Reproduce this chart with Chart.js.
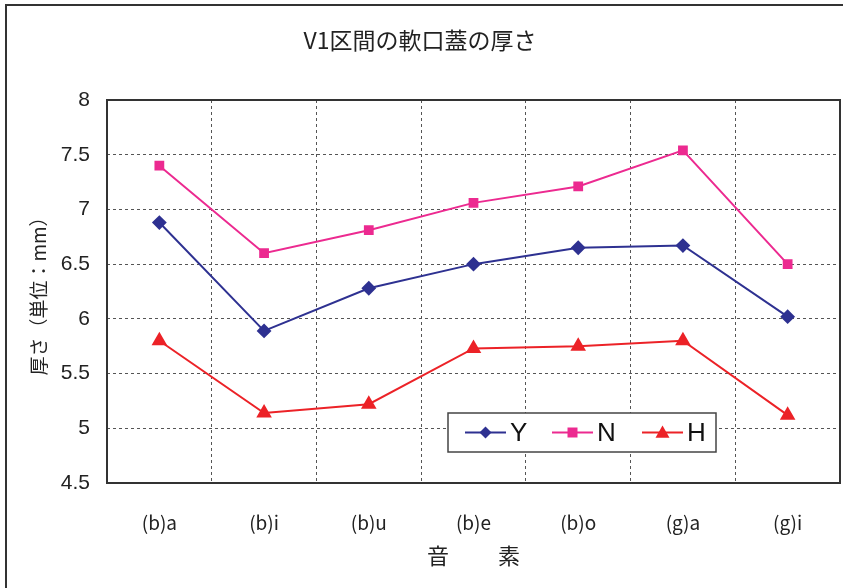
<!DOCTYPE html>
<html>
<head>
<meta charset="utf-8">
<script src="https://cdn.jsdelivr.net/npm/chart.js@4"></script>
<style>
html,body{margin:0;padding:0;background:#fff;}
#wrap{width:843px;height:588px;position:relative;}
</style>
</head>
<body>
<div id="wrap"><canvas id="c" width="843" height="588"></canvas></div>
<script>
const titleText = 'V1区間の軟口蓋の厚さ';
const xTitle = '音　　 素';
const yTitle = '厚さ（単位：mm）';
const categories = ['(b)a', '(b)i', '(b)u', '(b)e', '(b)o', '(g)a', '(g)i'];
const seriesNames = ['Y', 'N', 'H'];
const valuesY = [6.88, 5.89, 6.28, 6.50, 6.65, 6.67, 6.02];
const valuesN = [7.40, 6.60, 6.81, 7.06, 7.21, 7.54, 6.50];
const valuesH = [5.80, 5.14, 5.22, 5.73, 5.75, 5.80, 5.12];
const yMin = 4.5, yMax = 8, yStep = 0.5;

const JP = '"Noto Sans CJK JP", "Noto Sans", sans-serif';
const NUM = '"Liberation Sans", Arial, sans-serif';

const frameAndLegend = {
  id: 'frameAndLegend',
  beforeDatasetsDraw(chart) {
    const {ctx, chartArea: a} = chart;
    ctx.save();
    ctx.strokeStyle = '#333';
    ctx.lineWidth = 2;
    ctx.strokeRect(a.left, a.top, a.right - a.left, a.bottom - a.top);
    ctx.restore();
  },
  afterDraw(chart) {
    const {ctx} = chart;
    ctx.save();
    // outer frame (left and top edges visible)
    ctx.strokeStyle = '#333';
    ctx.lineWidth = 2;
    ctx.beginPath();
    ctx.moveTo(6, 600); ctx.lineTo(6, 5); ctx.lineTo(845, 5);
    ctx.stroke();
    // legend box
    const bx = 448, by = 413, bw = 268, bh = 39;
    ctx.fillStyle = '#fff';
    ctx.fillRect(bx, by, bw, bh);
    ctx.strokeStyle = '#444';
    ctx.lineWidth = 1.5;
    ctx.strokeRect(bx, by, bw, bh);
    const cy = by + bh / 2;
    const starts = [465, 552, 642];
    chart.data.datasets.forEach((ds, i) => {
      const x0 = starts[i], x1 = x0 + 41, mx = (x0 + x1) / 2;
      ctx.strokeStyle = ds.borderColor;
      ctx.lineWidth = 2;
      ctx.beginPath(); ctx.moveTo(x0, cy); ctx.lineTo(x1, cy); ctx.stroke();
      ctx.fillStyle = ds.pointBackgroundColor;
      ctx.beginPath();
      if (ds.pointStyle === 'rectRot') {
        const r = 6;
        ctx.moveTo(mx, cy - r); ctx.lineTo(mx + r, cy); ctx.lineTo(mx, cy + r); ctx.lineTo(mx - r, cy);
      } else if (ds.pointStyle === 'rect') {
        ctx.rect(mx - 5, cy - 5, 10, 10);
      } else {
        const r = 7;
        ctx.moveTo(mx, cy - r); ctx.lineTo(mx + r, cy + r * 0.75); ctx.lineTo(mx - r, cy + r * 0.75);
      }
      ctx.closePath(); ctx.fill();
      ctx.fillStyle = '#111';
      ctx.font = '26px ' + NUM;
      ctx.textBaseline = 'middle';
      ctx.textAlign = 'left';
      ctx.fillText(ds.label, x1 + 4, cy + 1);
    });
    ctx.restore();
  }
};

new Chart(document.getElementById('c'), {
  type: 'line',
  data: {
    labels: categories,
    datasets: [
      {label: seriesNames[0], data: valuesY, borderColor: '#2E3191', pointBackgroundColor: '#2E3191', pointBorderColor: '#2E3191', pointStyle: 'rectRot', pointRadius: 6, borderWidth: 2},
      {label: seriesNames[1], data: valuesN, borderColor: '#EC2A90', pointBackgroundColor: '#EC2A90', pointBorderColor: '#EC2A90', pointStyle: 'rect', pointRadius: 5.5, borderWidth: 2},
      {label: seriesNames[2], data: valuesH, borderColor: '#EC2227', pointBackgroundColor: '#EC2227', pointBorderColor: '#EC2227', pointStyle: 'triangle', pointRadius: 7, borderWidth: 2}
    ]
  },
  options: {
    responsive: false,
    animation: false,
    devicePixelRatio: 1,
    layout: {autoPadding: false, padding: {left: 0, right: 3, top: 0, bottom: 0}},
    elements: {line: {tension: 0}, point: {borderWidth: 1}},
    plugins: {
      legend: {display: false},
      tooltip: {enabled: false},
      title: {
        display: true, text: titleText, color: '#222',
        font: {family: JP, size: 23, weight: 'normal', lineHeight: 1.2},
        padding: {top: 26, bottom: 46.4}
      }
    },
    scales: {
      x: {
        offset: true,
        grid: {offset: true, color: '#555', lineWidth: 1, drawTicks: false},
        border: {display: false, dash: [3, 3]},
        ticks: {color: '#222', font: {family: JP, size: 19}, padding: 28},
        title: {display: true, text: xTitle, color: '#222', font: {family: JP, size: 22, lineHeight: 1.2}, padding: {top: 0, bottom: 19}},
        afterFit(s) { s.height = 105; }
      },
      y: {
        min: yMin, max: yMax,
        grid: {color: '#555', lineWidth: 1, drawTicks: false},
        border: {display: false, dash: [3, 3]},
        ticks: {stepSize: yStep, color: '#222', font: {family: NUM, size: 21}, padding: 17,
          callback: (v) => String(Math.round(v * 10) / 10)},
        title: {display: true, text: yTitle, color: '#222', font: {family: JP, size: 19, lineHeight: 1.2}, padding: {top: 27, bottom: 0}},
        afterFit(s) { s.width = 107; }
      }
    }
  },
  plugins: [frameAndLegend]
});
</script>
</body>
</html>
